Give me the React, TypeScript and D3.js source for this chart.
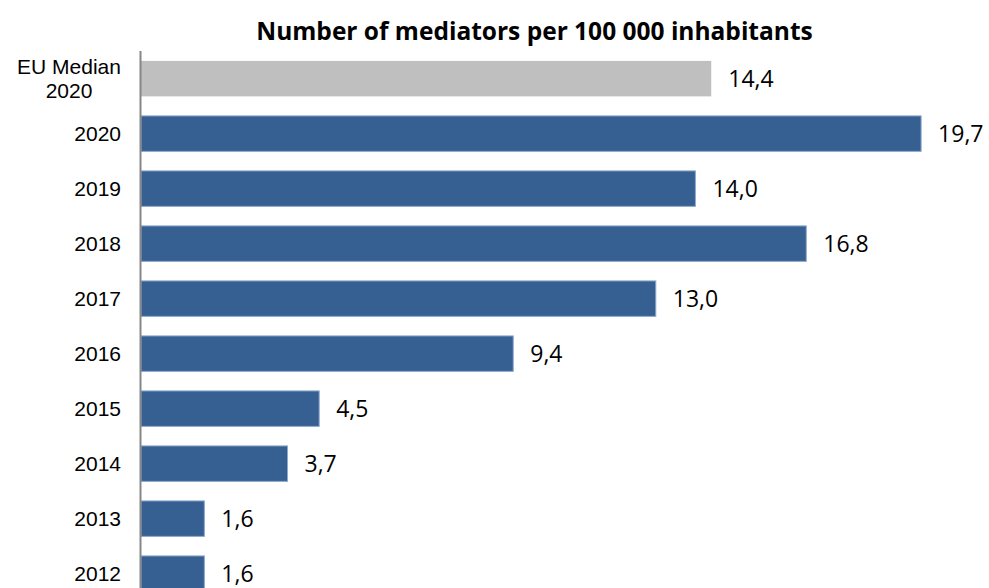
import React from "react";
import * as d3 from "d3";

const categories = ["EU Median 2020", "2020", "2019", "2018", "2017", "2016", "2015", "2014", "2013", "2012"];
const values = [14.4, 19.7, 14.0, 16.8, 13.0, 9.4, 4.5, 3.7, 1.6, 1.6];
const highlight = [true, false, false, false, false, false, false, false, false, false];
const title = "Number of mediators per 100 000 inhabitants";

const W = 989;
const H = 588;

export default function App() {
  const x = d3.scaleLinear().domain([0, 20]).range([141, 933]);
  const y = d3
    .scaleBand<string>()
    .domain(categories)
    .range([51, 601.3])
    .paddingInner(0.355)
    .paddingOuter(0.18);
  const fmt = (v: number) => d3.format(".1f")(v).replace(".", ",");

  return (
    <svg
      width={W}
      height={H}
      style={{ position: "absolute", left: 0, top: 0, background: "#fff" }}
    >
      <text
        x={534.5}
        y={40}
        textAnchor="middle"
        fontFamily="'Open Sans', sans-serif"
        fontWeight={700}
        fontSize={24.5}
        fill="#000"
      >
        {title}
      </text>
      {categories.map((c, i) => {
        const yy = y(c)!;
        const bw = y.bandwidth();
        const cy = yy + bw / 2;
        return (
          <g key={c}>
            <rect
              x={x(0)}
              y={yy}
              width={x(values[i]) - x(0)}
              height={bw}
              fill={highlight[i] ? "#bfbfbf" : "#376092"}
              stroke={highlight[i] ? "none" : "#8ea9cf"}
              strokeWidth={1}
            />
            <text
              x={x(values[i]) + 17}
              y={cy + 8.5}
              fontFamily="'Open Sans', sans-serif"
              fontSize={23}
              fill="#000"
            >
              {fmt(values[i])}
            </text>
            {c === "EU Median 2020" ? (
              <text
                textAnchor="middle"
                fontFamily="'Liberation Sans', Arial, sans-serif"
                fontSize={21}
                fill="#000"
              >
                <tspan x={69} y={cy - 5}>EU Median</tspan>
                <tspan x={69} y={cy + 19}>2020</tspan>
              </text>
            ) : (
              <text
                x={121}
                y={cy + 7}
                textAnchor="end"
                fontFamily="'Liberation Sans', Arial, sans-serif"
                fontSize={21}
                fill="#000"
              >
                {c}
              </text>
            )}
          </g>
        );
      })}
      <line x1={140.5} x2={140.5} y1={51} y2={H} stroke="#868686" strokeWidth={2} />
    </svg>
  );
}
